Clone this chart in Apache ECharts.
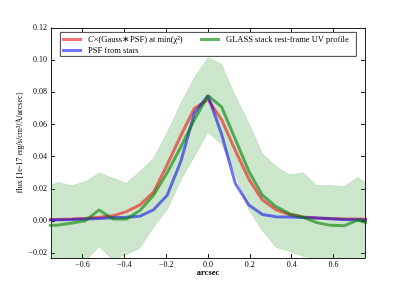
<!DOCTYPE html>
<html><head><meta charset="utf-8">
<script src="https://cdn.jsdelivr.net/npm/echarts@6/dist/echarts.min.js"></script>
<style>html,body{margin:0;padding:0;background:#fff}#c{width:407px;height:287px}</style>
</head><body><div id="c"></div><script>
// positions (arcsec), one pixel = 0.065"
const arcsec = [-0.78,-0.715,-0.65,-0.585,-0.52,-0.455,-0.39,-0.325,-0.26,-0.195,-0.13,-0.065,0,0.065,0.13,0.195,0.26,0.325,0.39,0.455,0.52,0.585,0.65,0.715,0.78];
const modelFit = [0.0009,0.001,0.0013,0.0017,0.0023,0.0032,0.0058,0.010,0.018,0.035,0.053,0.070,0.0755,0.063,0.044,0.026,0.013,0.007,0.004,0.0025,0.0018,0.0015,0.0013,0.0012,0.001];
const psfStars = [0.0006,0.0008,0.001,0.0013,0.0016,0.002,0.0023,0.003,0.007,0.016,0.037,0.067,0.078,0.054,0.0235,0.010,0.004,0.0027,0.0025,0.0022,0.0018,0.0014,0.001,0.0008,0.0006];
const glassStack = [-0.003,-0.0025,-0.0013,0.0002,0.0069,0.0012,0.0012,0.0065,0.016,0.030,0.046,0.063,0.078,0.071,0.051,0.031,0.016,0.009,0.0044,0.0023,-0.001,-0.0027,-0.003,0.0006,-0.002];
const glassUpper = [0.021,0.024,0.022,0.0246,0.0298,0.0267,0.0235,0.031,0.039,0.055,0.073,0.089,0.1017,0.0975,0.078,0.061,0.042,0.034,0.0288,0.030,0.022,0.022,0.0215,0.027,0.022];
const glassLower = [-0.032,-0.031,-0.030,-0.025,-0.016,-0.024,-0.021,-0.017,-0.004,0.007,0.025,0.040,0.055,0.0475,0.029,0.007,-0.006,-0.0165,-0.019,-0.022,-0.0235,-0.026,-0.028,-0.030,-0.032];
const xTicks = [-0.6,-0.4,-0.2,0.0,0.2,0.4,0.6];
const yTicks = [-0.02,0.00,0.02,0.04,0.06,0.08,0.10,0.12];

const NAME_FIT = 'fit', NAME_PSF = 'PSF from stars', NAME_GLASS = 'GLASS stack rest-frame UV profile';
const pairs = ys => arcsec.map((x,i)=>[x, ys[i]]);
const serif = 'Liberation Serif';
const minus = s => s.replace('-', '\u2212');

const chart = echarts.init(document.getElementById('c'), null, {renderer:'canvas'});
const tickStyle = {show:true, inside:true, length:4, lineStyle:{color:'#222', width:1}};
const axisLineStyle = {show:true, onZero:false, lineStyle:{color:'#222', width:1}};
const legendBase = {
  orient:'horizontal', icon:'rect', itemWidth:20, itemHeight:3, itemGap:0,
  textStyle:{fontFamily:serif, fontSize:8.5, color:'#000', padding:[0,0,0,1],
    rich:{i:{fontFamily:serif, fontSize:8.5, fontStyle:'italic', color:'#000'}}},
  formatter: n => n === NAME_FIT ? '{i|C}\u00d7(Gauss\u2217PSF) at min(\u03c7\u00b2)' : n,
  selectedMode:false, padding:0, z:10
};
const bandData = arcsec.map((x,i)=>[x, glassLower[i], glassUpper[i]]);
chart.setOption({
  animation:false,
  backgroundColor:'#fff',
  grid:{left:51, right:42, top:28, bottom:29, containLabel:false},
  xAxis:[{
    type:'value', min:-0.75, max:0.75, position:'bottom',
    name:'arcsec', nameLocation:'middle', nameGap:10, nameMoveOverlap:false,
    nameTextStyle:{fontFamily:serif, fontSize:8.5, fontWeight:'bold', color:'#000'},
    axisLine:axisLineStyle,
    axisTick:Object.assign({customValues:xTicks}, tickStyle),
    axisLabel:{customValues:xTicks, fontFamily:serif, fontSize:8, color:'#000', margin:3,
      formatter:v=>minus(v.toFixed(1))},
    splitLine:{show:false}
  },{
    type:'value', min:-0.75, max:0.75, position:'top',
    axisLine:axisLineStyle,
    axisTick:Object.assign({customValues:xTicks}, tickStyle),
    axisLabel:{show:false}, splitLine:{show:false}
  }],
  yAxis:[{
    type:'value', min:-0.023, max:0.12, position:'left',
    name:'flux [1e-17 erg/s/cm\u00b2/\u00c5/arcsec]', nameLocation:'middle', nameGap:27, nameRotate:90,
    nameMoveOverlap:false,
    nameTextStyle:{fontFamily:serif, fontSize:8, color:'#000'},
    axisLine:axisLineStyle,
    axisTick:Object.assign({customValues:yTicks}, tickStyle),
    axisLabel:{customValues:yTicks, fontFamily:serif, fontSize:8, color:'#000', margin:4,
      formatter:v=>minus(v.toFixed(2))},
    splitLine:{show:false}
  },{
    type:'value', min:-0.023, max:0.12, position:'right',
    axisLine:axisLineStyle,
    axisTick:Object.assign({customValues:yTicks}, tickStyle),
    axisLabel:{show:false}, splitLine:{show:false}
  }],
  legend:[
    Object.assign({data:[NAME_FIT], left:62, top:35}, legendBase),
    Object.assign({data:[NAME_GLASS], left:200, top:35}, legendBase),
    Object.assign({data:[NAME_PSF], left:62, top:46}, legendBase)
  ],
  graphic:[{type:'rect', left:60, top:32, shape:{width:296, height:24},
    style:{fill:'#fff', stroke:'#111', lineWidth:0.8}, z:5}],
  series:[
    {type:'custom', name:'band', coordinateSystem:'cartesian2d', xAxisIndex:0, yAxisIndex:0,
      data:bandData, encode:{x:0, y:[1,2]}, silent:true, z:1, clip:true,
      renderItem:(params, api)=>{
        if (params.dataIndex !== 0) return null;
        const top = bandData.map(d=>api.coord([d[0], d[2]]));
        const bot = bandData.slice().reverse().map(d=>api.coord([d[0], d[1]]));
        const cs = params.coordSys;
        return {type:'polygon', shape:{points:top.concat(bot)},
          style:{fill:'rgba(0,128,0,0.2)', stroke:'rgba(0,128,0,0.2)', lineWidth:0.6},
          clipPath:{type:'rect', shape:{x:cs.x, y:cs.y, width:cs.width, height:cs.height}}};
      }},
    {type:'line', name:NAME_FIT, data:pairs(modelFit), symbol:'none',
      color:'rgba(240,0,0,0.55)', lineStyle:{width:3, color:'rgba(240,0,0,0.55)'}, z:2},
    {type:'line', name:NAME_PSF, data:pairs(psfStars), symbol:'none',
      color:'rgba(0,0,240,0.55)', lineStyle:{width:3, color:'rgba(0,0,240,0.55)'}, z:3},
    {type:'line', name:NAME_GLASS, data:pairs(glassStack), symbol:'none',
      color:'rgba(0,128,0,0.6)', lineStyle:{width:3, color:'rgba(0,128,0,0.6)'}, z:4}
  ]
});
</script></body></html>
